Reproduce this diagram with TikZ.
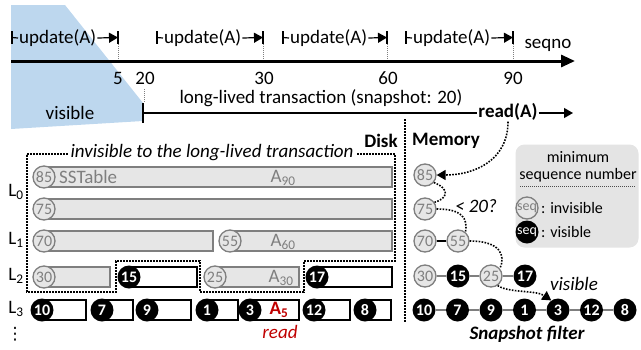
\documentclass[tikz,border=0pt]{standalone}
\usepackage{fontspec}
\setmainfont{Carlito}
\newfontfamily\symfont{DejaVu Sans}
\usetikzlibrary{arrows.meta,positioning,calc}
\definecolor{seqgray}{HTML}{7F7F7F}
\definecolor{boxgray}{HTML}{E6E6E6}
\definecolor{legfill}{HTML}{E4E4E4}
\definecolor{visblue}{HTML}{BDD7EE}
\definecolor{readred}{HTML}{C00000}
\newcommand{\bigfont}{\fontsize{19}{22}\selectfont}
\newcommand{\seqfont}{\fontsize{16}{16}\selectfont}
\tikzset{
  >={Triangle[length=9pt,width=10pt]},
  lbl/.style={font=\bigfont,inner sep=1pt},
  tick/.style={font=\bigfont,inner sep=0pt},
  % sequence numbers
  gs/.style={circle,draw=seqgray,fill=boxgray,text=seqgray,line width=1.3pt,
             minimum size=22pt,inner sep=0pt,font=\seqfont},
  bs/.style={circle,fill=black,text=white,minimum size=23pt,inner sep=0pt,
             font=\seqfont\bfseries},
  % tables
  gbox/.style={draw=seqgray,fill=boxgray,line width=1.3pt},
  wbox/.style={draw=black,fill=white,line width=1.3pt},
  dots/.style={line width=1.6pt,dash pattern=on 1.6pt off 1.4pt},
  fine/.style={draw=seqgray,line width=0.8pt,dash pattern=on 1pt off 1pt},
  glink/.style={draw=seqgray,line width=1.6pt},
  blink/.style={draw=black,line width=1.6pt},
}

\begin{document}
\begin{tikzpicture}[x=1pt,y=-1pt]
  \useasboundingbox (0,0) rectangle (641,349);
  \fill[visblue] (11,5) -- (65,5) -- (143,103) -- (143,121) -- (11,129) -- cycle;
  % seqno axis
  \coordinate (ax0) at (11,61);
  \coordinate (ax1) at (575,61);
  \draw[line width=3pt,-{Triangle[length=14pt,width=12pt]}] (ax0) -- (ax1);
  \node[lbl] (seqno) at (548,45) {seqno};
  \foreach \a/\b [count=\i] in {12/118,157/263,283/387,406/513}{
    \node[lbl,anchor=west] (u\i) at (\a+6,38) {update(A)};
    \draw[line width=1.2pt] (\a,31) -- (\a,44);
    \draw[line width=1.2pt] (\a,37.5) -- (u\i.west);
    \draw[line width=1.2pt,->] (u\i.east) -- (\b,37.5);
    \draw[line width=1.2pt] (\b,31) -- (\b,44);
    \draw[fine] (\b,44) -- (\b,60);
  }
  \node[tick] (t5) at (118,78) {5};
  \node[tick] (t20) at (145,78) {20};
  \node[tick] (t30) at (264,78) {30};
  \node[tick] (t60) at (388,78) {60};
  \node[tick] (t90) at (513,78) {90};
  % long-lived transaction
  \node[tick] (llt) at (321,98) {long-lived transaction (snapshot: 20)};
  \node[lbl,font=\bigfont\bfseries] (rd) at (508,112) {read(A)};
  \coordinate (ts) at (143,113);
  \draw[fine] (144,89) -- (144,103);
  \draw[line width=1.5pt] (143,103) -- (143,123);
  \draw[line width=1.3pt] (ts) -- (rd.west |- ts);
  \draw[line width=1.3pt,->] (rd.east |- ts) -- (573,113);
  \node[lbl] (vis) at (70,113) {visible};
  % disk
  \draw[dots] (405,119) -- (405,322);
  \node[lbl,font=\bigfont\bfseries] (disk) at (381,141) {Disk};
  \node[lbl,font=\bigfont\bfseries] (mem) at (446,141) {Memory};
  \draw[dots] (27,154) -- (395,154) -- (395,261) -- (304,261) -- (304,292)
    -- (200,292) -- (200,261) -- (116,261) -- (116,292) -- (27,292) -- cycle;
  \node[lbl,font=\bigfont\itshape,fill=white,inner xsep=3pt] (inv) at (212,153)
    {invisible to the long-lived transaction};
  \node[lbl] (l0) at (16,192) {L\textsubscript{0}};
  \node[lbl] (l1) at (16,240) {L\textsubscript{1}};
  \node[lbl] (l2) at (16,276) {L\textsubscript{2}};
  \node[lbl] (l3) at (16,309) {L\textsubscript{3}};
  \node[lbl,font=\fontsize{17}{17}\symfont] (ld) at (15,334) {⋮};
  \draw[gbox] (44,167) rectangle (392,187);
  \node[gs] (d85) at (44,177) {85};
  \node[lbl,text=seqgray,anchor=west] (sst) at (58,177) {SSTable};
  \node[lbl,text=seqgray] (a90) at (283,178) {A\textsubscript{90}};
  \draw[gbox] (44,199) rectangle (392,219);
  \node[gs] (d75) at (44,209) {75};
  \draw[gbox] (44,231) rectangle (213,251);
  \node[gs] (d70) at (44,241) {70};
  \draw[gbox] (230,231) rectangle (392,251);
  \node[gs] (d55) at (230,241) {55};
  \node[lbl,text=seqgray] (a60) at (283,242) {A\textsubscript{60}};
  \draw[gbox] (44,267) rectangle (110,287);
  \node[gs] (d30) at (44,277) {30};
  \draw[wbox] (129,267) rectangle (197,287);
  \node[bs] (d15) at (129,277) {15};
  \draw[gbox] (215,267) rectangle (299,287);
  \node[gs] (d25) at (215,277) {25};
  \node[lbl,text=seqgray] (a30) at (281,278) {A\textsubscript{30}};
  \draw[wbox] (317,267) rectangle (392,287);
  \node[bs] (d17) at (317,277) {17};
  \foreach \n/\c/\r in {10/42/86,7/102/133,9/147/191,1/207/238,3/250/299,12/314/350,8/365/391}{
    \draw[wbox] (\c,300) rectangle (\r,320);
    \node[bs] (d\n) at (\c,310) {\n};
  }
  \node[lbl,text=readred,font=\bigfont\bfseries] (a5) at (279,310) {A\textsubscript{5}};
  \node[lbl,text=readred,font=\bigfont\itshape] (rdl) at (280,332) {read};
  % memory
  \node[gs] (m85) at (425,175) {85};
  \node[gs] (m75) at (425,209) {75};
  \node[gs] (m70) at (425,241) {70};
  \node[gs] (m55) at (458,241) {55};
  \node[gs] (m30) at (425,276) {30};
  \node[bs] (m15) at (458,276) {15};
  \node[gs] (m25) at (491,276) {25};
  \node[bs] (m17) at (525,276) {17};
  \foreach \n [count=\i from 0] in {10,7,9,1,3,12,8}
    \node[bs] (m\n) at (424+33.5*\i,310) {\n};
  \draw[blink] (m70) -- (m55);
  \foreach \a/\b in {30/15,15/25,25/17,10/7,7/9,9/1,1/3,3/12,12/8}
    \draw[glink] (m\a) -- (m\b);
  \draw[dots,->] (rd.south) .. controls (508,160) and (475,175) .. (m85.east);
  \draw[dots] (m85.-40) .. controls (452,190) and (446,199) .. (m75.35);
  \draw[dots] (m75.east) .. controls (462,209) and (468,218) .. (m55.50);
  \draw[dots] (m55.east) .. controls (500,241) and (506,255) .. (m25.40);
  \draw[dots,->] (m25.-55) .. controls (508,293) and (536,290) .. (m3.125);
  \node[lbl,font=\bigfont\itshape] (lt20) at (476,206) {< 20?};
  \node[lbl,font=\bigfont\itshape] (mvis) at (574,284) {visible};
  \node[lbl,font=\bigfont\bfseries\itshape] (snap) at (527,334) {Snapshot filter};
  % legend
  \node[fill=legfill,rounded corners=9pt,minimum width=123pt,minimum height=103pt] (leg) at (577,196) {};
  \node[font=\seqfont,inner sep=0pt] (lmin) at (578,157) {minimum};
  \node[font=\seqfont,inner sep=0pt] (lseq) at (578,175) {sequence number};
  \draw[fine,draw=black!70] (520,186) -- (636,186);
  \node[gs,font=\fontsize{14}{14}\selectfont] (lg) at (527,208) {seq};
  \node[font=\seqfont,anchor=west,inner sep=0pt] (linv) at (541,208) {: invisible};
  \node[bs,font=\fontsize{14}{14}\selectfont] (lb) at (527,232) {seq};
  \node[font=\seqfont,anchor=west,inner sep=0pt] (lv) at (541,232) {: visible};
\end{tikzpicture}
\end{document}
